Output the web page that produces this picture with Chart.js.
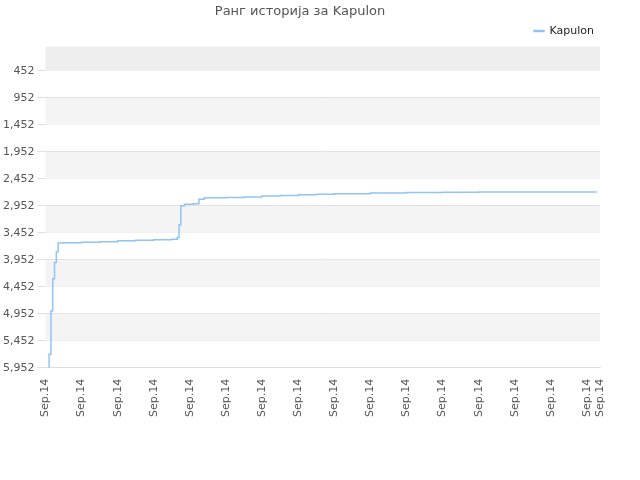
<!DOCTYPE html><html><head><script src="https://cdn.jsdelivr.net/npm/chart.js"></script>
<style>body{margin:0}</style></head><body><canvas id="c" width="640" height="480"></canvas>
<script>
const xs=[0.08,0.1,0.15,0.2,0.25,0.3,0.35,0.5,1,1.5,2,2.5,3,3.5,3.65,3.7,3.75,3.85,4.1,4.25,4.4,5,5.5,6,6.5,7,7.5,8,9,10,11,12,13,14,15.2,15.25];
const ys=[5952,5700,4900,4300,4000,3800,3640,3635,3625,3615,3600,3590,3580,3570,3540,3300,2950,2920,2910,2830,2800,2795,2785,2770,2760,2745,2735,2725,2715,2705,2700,2695,2695,2695,2695,2680];
const tickVals=[452,952,1452,1952,2452,2952,3452,3952,4452,4952,5452,5952];
const xLabel="Sep.14";
const bands={id:'bands',beforeDatasetsDraw(ch){const{ctx,chartArea:a,scales:{y}}=ch;const edges=[0,...tickVals];ctx.save();for(let i=0;i<edges.length-1;i++){if(i%2==0){ctx.fillStyle=i==0?'#eeeeee':'#f4f4f4';const t=y.getPixelForValue(edges[i]),b=y.getPixelForValue(edges[i+1]);ctx.fillRect(a.left,t,a.right-a.left,b-t);}}ctx.restore();}};
new Chart(document.getElementById('c'),{type:'line',data:{datasets:[{label:'Kapulon',data:xs.map((x,i)=>({x,y:ys[i]})),borderColor:'#90c4f5',backgroundColor:'#90c4f5',borderWidth:1.5,pointRadius:0,stepped:true}]},
options:{responsive:false,animation:false,layout:{padding:{left:0,right:40,top:0,bottom:60}},
plugins:{title:{display:true,text:'Ранг историја за Kapulon',color:'#555',font:{family:'DejaVu Sans',size:13,weight:'normal'},padding:{top:4,bottom:0}},
legend:{position:'top',align:'end',labels:{boxWidth:10,boxHeight:1,padding:6,font:{family:'DejaVu Sans',size:11},color:'#222'}}},
scales:{x:{type:'linear',min:0,max:15.36,grid:{display:false},border:{color:'#ddd'},ticks:{stepSize:1,autoSkip:false,maxRotation:90,minRotation:90,callback:()=>xLabel,color:'#555',font:{family:'DejaVu Sans',size:11}}},
y:{reverse:true,min:0,max:5952,afterBuildTicks:s=>{s.ticks=tickVals.map(v=>({value:v}))},grid:{color:'#e0e0e0'},border:{display:false},ticks:{color:'#555',font:{family:'DejaVu Sans',size:11}}}}},plugins:[bands]});
</script></body></html>
